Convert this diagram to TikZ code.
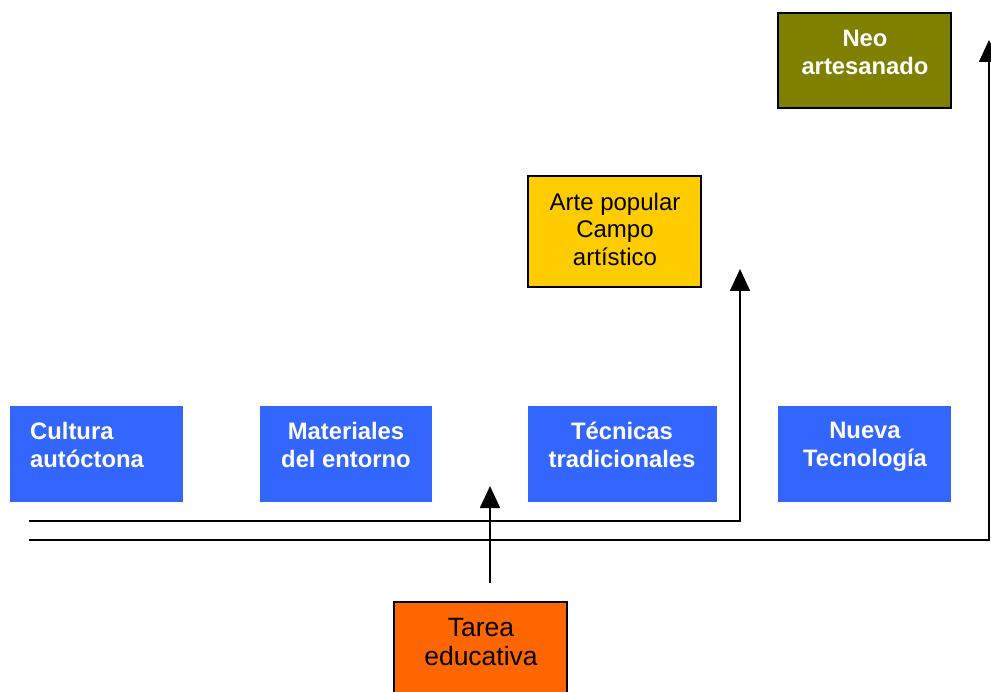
\documentclass[tikz,border=0pt]{standalone}
\usepackage{fontspec}
\setmainfont{Liberation Sans}
\usetikzlibrary{arrows.meta}
\definecolor{blueb}{HTML}{3366FF}
\definecolor{oliveb}{HTML}{808000}
\definecolor{yellowb}{HTML}{FFCC00}
\definecolor{orangeb}{HTML}{FF6600}
\tikzset{
  box/.style={rectangle, inner sep=0pt, outer sep=0pt, anchor=north west},
  bordered/.style={box, draw=black, line width=1.5pt},
  txt/.style={align=center, inner sep=0pt, font=\fontsize{24}{27.5}\selectfont},
  bigtxt/.style={align=center, inner sep=0pt, font=\fontsize{26.5}{29}\selectfont},
  btxt/.style={align=center, inner sep=0pt, font=\fontsize{23.8}{28}\selectfont\bfseries, text=white},
  conn/.style={line width=1.8pt, -{Triangle[length=22pt,width=20pt]}},
}
\begin{document}
\begin{tikzpicture}[x=1pt,y=-1pt]
\useasboundingbox (0,0) rectangle (991,692);
% boxes
\node[bordered, fill=oliveb, minimum width=173pt, minimum height=95pt] (neo) at (778,13) {};
\node[btxt, anchor=north] (neot) at (865,30) {Neo\\artesanado};
\node[bordered, fill=yellowb, minimum width=173pt, minimum height=111pt] (arte) at (528,176) {};
\node[txt, anchor=north] (artet) at (615,192.5) {Arte popular\\Campo\\artístico};
\node[box, fill=blueb, minimum width=173pt, minimum height=96pt] (cult) at (10,406) {};
\node[btxt, align=left, anchor=north west] (cultt) at (30,422) {Cultura\\autóctona};
\node[box, fill=blueb, minimum width=172pt, minimum height=96pt] (mat) at (260,406) {};
\node[btxt, anchor=north] (matt) at (346,422) {Materiales\\del entorno};
\node[box, fill=blueb, minimum width=189pt, minimum height=96pt] (tec) at (528,406) {};
\node[btxt, anchor=north] (tect) at (622,422) {Técnicas\\tradicionales};
\node[box, fill=blueb, minimum width=173pt, minimum height=96pt] (nue) at (778,406) {};
\node[btxt, anchor=north] (nuet) at (865,422) {Nueva\\Tecnología};
\node[bordered, fill=orangeb, minimum width=173pt, minimum height=100pt] (tarea) at (394,602) {};
\node[bigtxt, anchor=north] (tareat) at (481,618) {Tarea\\educativa};
% connectors
\coordinate (s1) at (29,521);
\coordinate (c1) at (740,521);
\coordinate (e1) at (740,269);
\coordinate (s2) at (29,540);
\coordinate (c2) at (989,540);
\coordinate (e2) at (989,40);
\coordinate (s3) at (490,583);
\coordinate (e3) at (490,486);
\draw[conn] (s1) -- (c1) -- (e1);
\draw[conn] (s2) -- (c2) -- (e2);
\draw[conn] (s3) -- (e3);
\end{tikzpicture}
\end{document}
